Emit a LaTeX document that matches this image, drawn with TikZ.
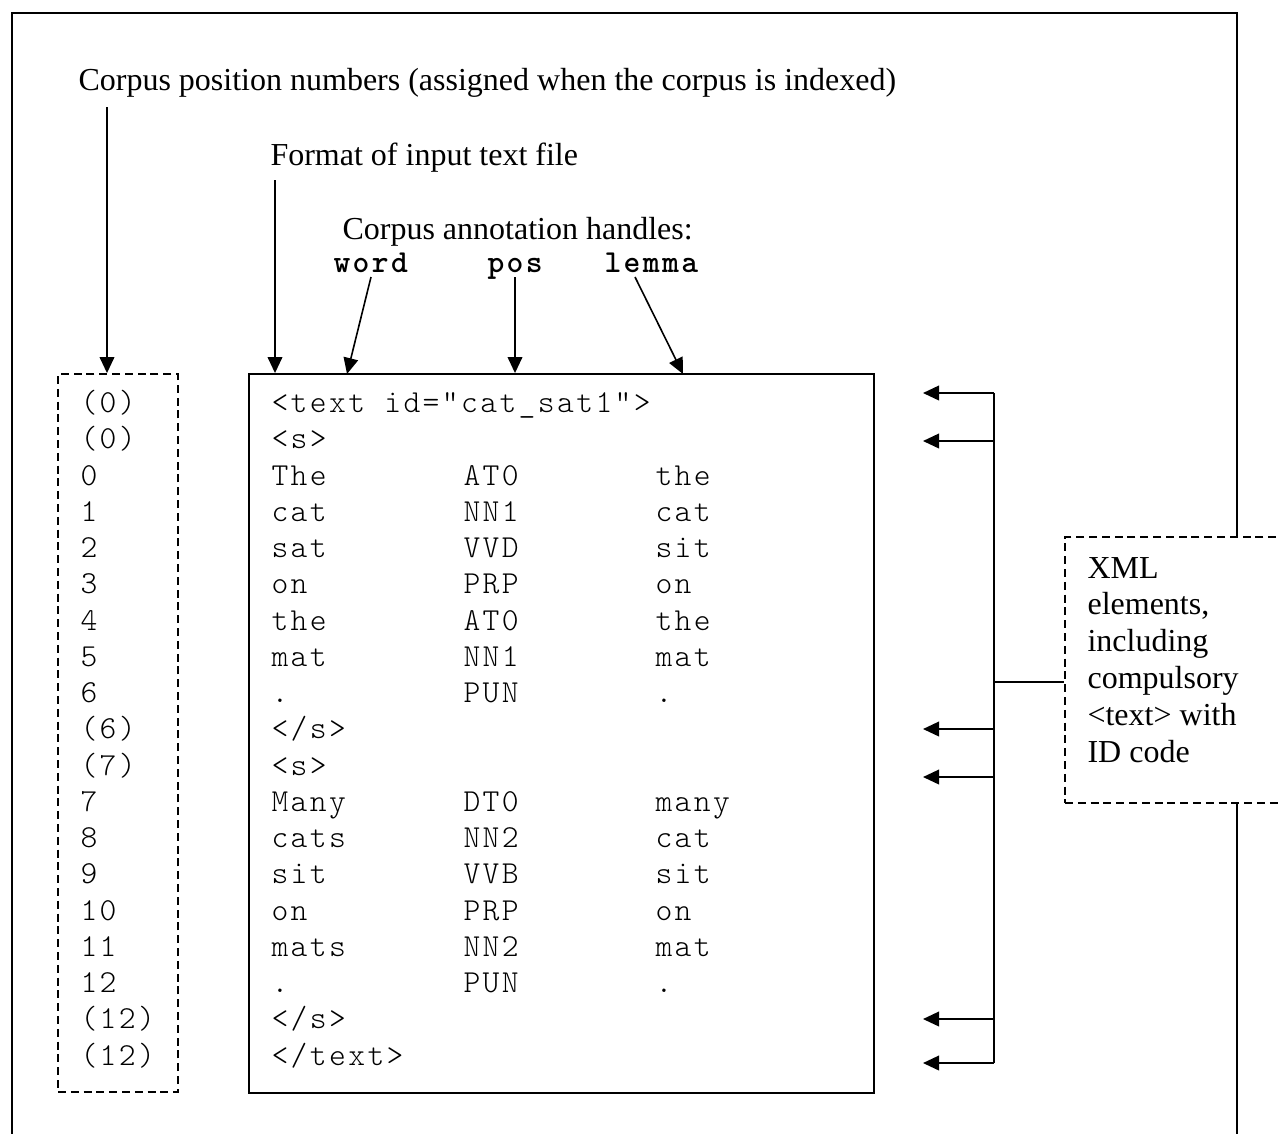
\documentclass[tikz,border=0pt]{standalone}
\usepackage{fontspec}
\setmainfont{Liberation Serif}
% thin typewriter face, spaced out to a 0.6em pitch
\newfontfamily\corpusmono{lmmonolt10-regular.otf}[LetterSpace=7.5, BoldFont=lmmonolt10-bold.otf]
\usetikzlibrary{arrows.meta,fit}

\tikzset{
  lbl/.style={anchor=base west, inner sep=0pt, font=\fontsize{12}{13.8}\selectfont},
  mono/.style={anchor=base west, inner sep=0pt, font=\corpusmono\fontsize{12}{13.6}\selectfont},
  handle/.style={anchor=base west, inner sep=0pt, font=\corpusmono\bfseries\fontsize{12}{13.6}\selectfont},
  frameline/.style={line width=0.75pt},
  solidbox/.style={draw, line width=0.7pt, inner sep=0pt},
  dashbox/.style={draw, line width=0.7pt, dash pattern=on 3pt off 1.8pt, inner sep=0pt},
  conn/.style={line width=0.6pt},
  arr/.style={conn, -{Triangle[length=6pt,width=5.5pt]}},
}

% one line of the corpus: position number, word, tag, lemma
\newcommand\corpusrow[5]{%
  \node[mono] (num#1) at (80,{412.5+36.25*#1}) {#2};
  \node[mono] (wd#1)  at (271,{412.5+36.25*#1}) {#3};
  \node[mono] (ps#1)  at (463,{412.5+36.25*#1}) {#4};
  \node[mono] (lm#1)  at (655,{412.5+36.25*#1}) {#5};
}

\begin{document}
\begin{tikzpicture}[x=0.375pt,y=-0.375pt]
\useasboundingbox (0,0) rectangle (1279,1133);
\clip (0,0) rectangle (1279,1133);

% outer frame, open at the bottom
\draw[frameline] (12,1150) -- (12,13) -- (1237,13) -- (1237,1150);

% headings
\node[lbl] (numtitle) at (78,90) {Corpus position numbers (assigned when the corpus is indexed)};
\node[lbl] (fmttitle) at (270,165) {Format of input text file};
\node[lbl] (anntitle) at (342,239) {Corpus annotation handles:};
\node[handle] (hword)  at (333,272) {word};
\node[handle] (hpos)   at (487,272) {pos};
\node[handle] (hlemma) at (604,272) {lemma};

% boxes
\node[dashbox, fit={(58,374)(178,1092)}] (numbox) {};
\node[solidbox, fit={(249,374)(874,1093)}] (textbox) {};

% corpus lines
\corpusrow{0}{(0)}{<text id="cat\_sat1">}{}{}
\corpusrow{1}{(0)}{<s>}{}{}
\corpusrow{2}{0}{The}{AT0}{the}
\corpusrow{3}{1}{cat}{NN1}{cat}
\corpusrow{4}{2}{sat}{VVD}{sit}
\corpusrow{5}{3}{on}{PRP}{on}
\corpusrow{6}{4}{the}{AT0}{the}
\corpusrow{7}{5}{mat}{NN1}{mat}
\corpusrow{8}{6}{.}{PUN}{.}
\corpusrow{9}{(6)}{</s>}{}{}
\corpusrow{10}{(7)}{<s>}{}{}
\corpusrow{11}{7}{Many}{DT0}{many}
\corpusrow{12}{8}{cats}{NN2}{cat}
\corpusrow{13}{9}{sit}{VVB}{sit}
\corpusrow{14}{10}{on}{PRP}{on}
\corpusrow{15}{11}{mats}{NN2}{mat}
\corpusrow{16}{12}{.}{PUN}{.}
\corpusrow{17}{(12)}{</s>}{}{}
\corpusrow{18}{(12)}{</text>}{}{}

% arrows from the headings down to the boxes
\coordinate (numsrc) at (107,107);
\coordinate (fmtsrc) at (275,180);
\coordinate (wordsrc) at (371,277);
\coordinate (wordtip) at (347,374);
\coordinate (possrc) at (515,277);
\coordinate (lemmasrc) at (635,277);
\coordinate (lemmatip) at (683,374);
\draw[arr] (numsrc) -- (numsrc |- numbox.north);
\draw[arr] (fmtsrc) -- (fmtsrc |- textbox.north);
\draw[arr] (wordsrc) -- (wordtip);
\draw[arr] (possrc) -- (possrc |- textbox.north);
\draw[arr] (lemmasrc) -- (lemmatip);

% XML elements note, drawn over the frame
\node[dashbox, fill=white, fit={(1065,537)(1300,803)}] (xmlbox) {};
\node[lbl, align=left] (xmltext) at (1087,762)
  {XML\\elements,\\including\\compulsory\\<text> with\\ID code};

% bracket with arrows pointing at the XML lines
\foreach \k/\yy in {0/393,1/441,2/729,3/777,4/1019,5/1063} {
  \coordinate (bus\k) at (994,\yy);
  \coordinate (tip\k) at (923,\yy);
  \draw[arr] (bus\k) -- (tip\k);
}
\draw[conn] (bus0) -- (bus5);
\coordinate (busmid) at (994,682);
\draw[conn] (busmid) -- (busmid -| xmlbox.west);
\end{tikzpicture}
\end{document}
